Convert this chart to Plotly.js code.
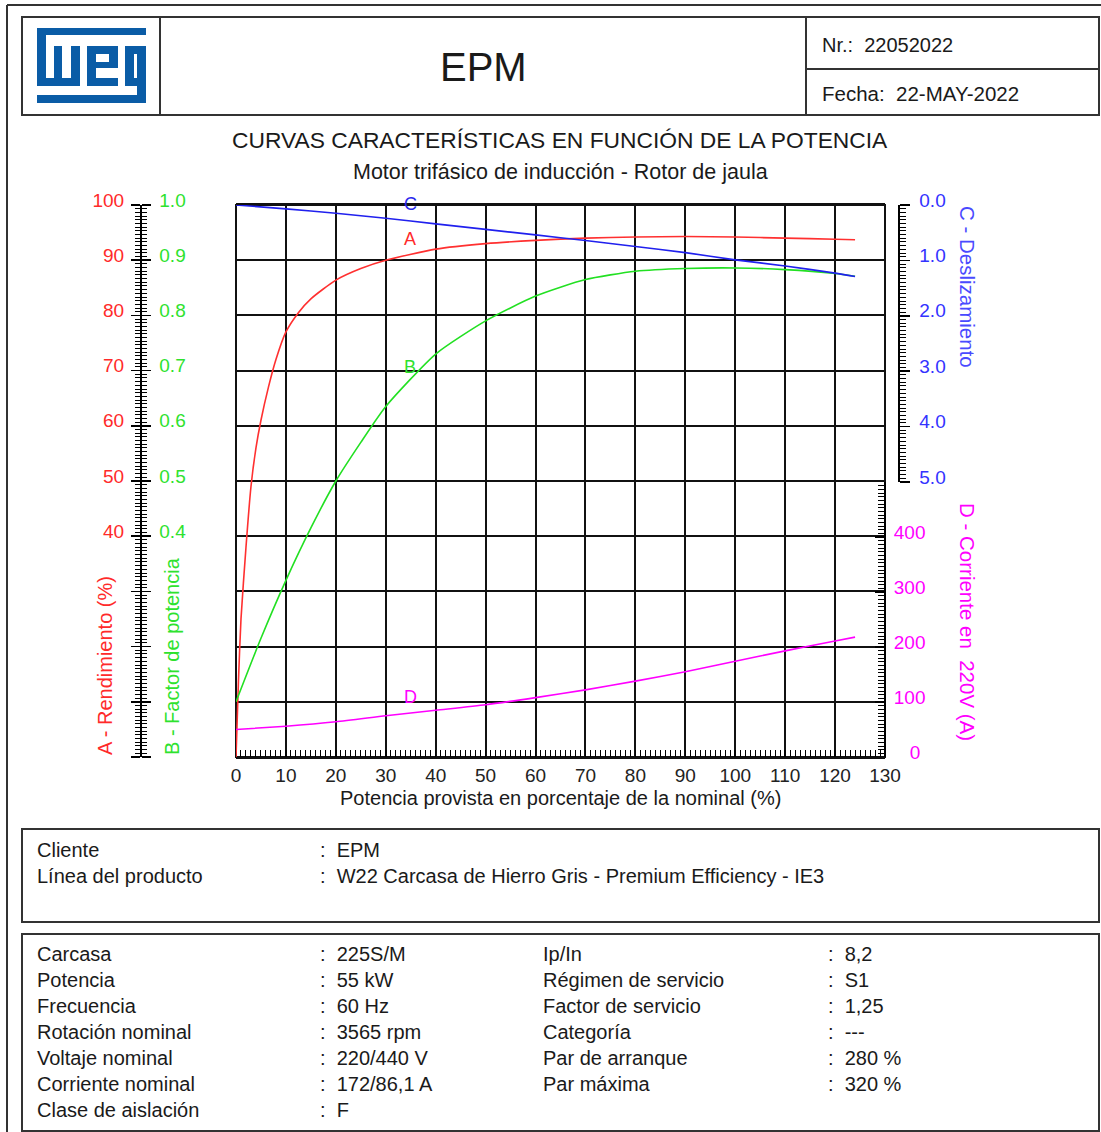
<!DOCTYPE html>
<html><head><meta charset="utf-8">
<script src="https://cdn.plot.ly/plotly-3.0.1.min.js"></script>
<style>html,body{margin:0;padding:0;background:#fff}#chart{width:1101px;height:1132px}</style>
</head><body><div id="chart"></div>
<script>
// ---------- DATA ----------
const powerA = [0,0.5,1,2,3,4,5,6.5,8,10,12.5,15,20,25,30,40,50,60,70,80,90,100,110,120,124];
const efficiency = [0,14,25,38,49,56,61,67,72,77,80.5,83,86.4,88.5,90,92,93,93.6,94,94.2,94.3,94.2,94,93.8,93.7];
const powerB = [0,5,10,15,20,25,30,40,50,60,70,80,90,100,110,120,124];
const powerFactor = [0.10,0.215,0.32,0.415,0.50,0.57,0.635,0.73,0.79,0.835,0.865,0.88,0.885,0.886,0.883,0.876,0.871];
const powerC = [0,10,20,30,40,50,60,70,80,90,100,110,120,124];
const slip = [0,0.07,0.15,0.24,0.34,0.44,0.54,0.64,0.75,0.86,0.99,1.1,1.23,1.29];
const powerD = [0,10,20,30,40,50,60,70,80,90,100,110,120,124];
const current = [50,56,64,75,85,95,108,122,138,155,174,193,211,218];

const xTicks = [0,10,20,30,40,50,60,70,80,90,100,110,120,130];
const aTicks = [0,10,20,30,40,50,60,70,80,90,100];
const aTickText = ['','','','','40','50','60','70','80','90','100'];
const bTicks = [0,0.1,0.2,0.3,0.4,0.5,0.6,0.7,0.8,0.9,1.0];
const bTickText = ['','','','','0.4','0.5','0.6','0.7','0.8','0.9','1.0'];
const cTicks = [0,1,2,3,4,5];
const cTickText = ['0.0','1.0','2.0','3.0','4.0','5.0'];
const dTicks = [0,100,200,300,400,500];
const dTickText = ['\u00a0\u00a0\u00a00','100','200','300','400',''];

const clientLabels = ['Cliente','Línea del producto'];
const clientValues = ['EPM','W22 Carcasa de Hierro Gris - Premium Efficiency - IE3'];
const specLabels1 = ['Carcasa','Potencia','Frecuencia','Rotación nominal','Voltaje nominal','Corriente nominal','Clase de aislación'];
const specValues1 = ['225S/M','55 kW','60 Hz','3565 rpm','220/440 V','172/86,1 A','F'];
const specLabels2 = ['Ip/In','Régimen de servicio','Factor de servicio','Categoría','Par de arranque','Par máxima'];
const specValues2 = ['8,2','S1','1,25','---','280 %','320 %'];

// ---------- HELPERS ----------
const W=1101,H=1132;
const px=v=>v/W, py=v=>1-v/H;
const FONT='Liberation Sans, Arial, sans-serif';
const RED='#ff2a2a', GREEN='#2ee22e', BLUE='#2a2aee', MAG='#ff00ff', TXT='#1a1a1a';
const LINEC='#333';

const annotations=[];
function txt(text,x,y,opt){
  opt=opt||{};
  annotations.push({text:text,xref:'paper',yref:'paper',x:px(x),y:py(y),
    xanchor:opt.xa||'left',yanchor:'middle',showarrow:false,textangle:opt.angle||0,
    font:{family:FONT,size:opt.size||20,color:opt.color||TXT}});
}
const shapes=[];
function rect(x0,y0,x1,y1,opt){
  opt=opt||{};
  shapes.push({type:'rect',xref:'paper',yref:'paper',x0:px(x0),x1:px(x1),y0:py(y0),y1:py(y1),
    line:{color:opt.lc||LINEC,width:opt.lw===undefined?2:opt.lw},fillcolor:opt.fill||'rgba(0,0,0,0)',layer:opt.layer||'above'});
}
function line(x0,y0,x1,y1,w){
  shapes.push({type:'line',xref:'paper',yref:'paper',x0:px(x0),x1:px(x1),y0:py(y0),y1:py(y1),line:{color:LINEC,width:w||2}});
}

// frames
line(7,5,1101,5,2); line(7,5,7,1132,2);
rect(22,17,1099,115);
line(160,17,160,115); line(806,17,806,115); line(806,69,1099,69);
rect(22,829,1099,922);
rect(22,934,1099,1131);
// plot border
rect(236,205,885,757,{lc:'#111',lw:2,layer:'below'});

// logo
const LOGO='#0a5ca6';
[[37,28,146,35],[37,28,46,86],[37,78,80,86],[54,46,62,86],[71,46,80,86],
 [87,46,96,86],[87,46,118,54],[109,46,118,68],[87,62,118,68],[87,78,118,86],
 [125,46,146,54],[125,46,134,86],[125,78,146,86],[137,46,146,103],[37,95,146,103]
].forEach(r=>rect(r[0],r[1],r[2],r[3],{lw:0,fill:LOGO}));

// header text
txt('EPM',483,67,{xa:'center',size:40});
txt('Nr.:  22052022',820,45,{size:20});
txt('Fecha:  22-MAY-2022',820,93,{size:20.5});
txt('CURVAS CARACTERÍSTICAS EN FUNCIÓN DE LA POTENCIA',560,140,{xa:'center',size:22.8});
txt('Motor trifásico de inducción - Rotor de jaula',560,172,{xa:'center',size:21.5});
txt('Potencia provista en porcentaje de la nominal (%)',560,798,{xa:'center',size:20});

// axis titles
txt('A - Rendimiento (%)',105,666,{xa:'center',angle:-90,size:20,color:RED});
txt('B - Factor de potencia',172,656,{xa:'center',angle:-90,size:20,color:GREEN});
txt('C - Deslizamiento',968,287,{xa:'center',angle:90,size:20.5,color:'#4a4aff'});
txt('D - Corriente en  220V (A)',968,622,{xa:'center',angle:90,size:20.5,color:MAG});

// curve letters
txt('C',410,204,{xa:'center',size:18,color:BLUE});
txt('A',410,239,{xa:'center',size:18,color:RED});
txt('B',410,367,{xa:'center',size:18,color:GREEN});
txt('D',410,697,{xa:'center',size:18,color:MAG});

// info text
clientLabels.forEach((l,i)=>{ txt(l,35,850+26*i); txt(':  '+clientValues[i],318,850+26*i); });
specLabels1.forEach((l,i)=>{ txt(l,35,954+26*i); txt(':  '+specValues1[i],318,954+26*i); });
specLabels2.forEach((l,i)=>{ txt(l,541,954+26*i); txt(':  '+specValues2[i],826,954+26*i); });

// ---------- TRACES ----------
const traces=[
 {x:powerA,y:efficiency,xaxis:'x',yaxis:'y',mode:'lines',line:{color:'#ff3030',width:1.6,shape:'spline',smoothing:0.6},hoverinfo:'skip'},
 {x:powerB,y:powerFactor,xaxis:'x',yaxis:'y2',mode:'lines',line:{color:'#22e022',width:1.6,shape:'spline',smoothing:0.6},hoverinfo:'skip'},
 {x:powerC,y:slip,xaxis:'x2',yaxis:'y3',mode:'lines',line:{color:'#2020ee',width:1.6,shape:'spline',smoothing:0.6},hoverinfo:'skip'},
 {x:powerD,y:current,xaxis:'x2',yaxis:'y4',mode:'lines',line:{color:MAG,width:1.6,shape:'spline',smoothing:0.6},hoverinfo:'skip'}
];

const xdom=[px(236),px(885)];
const tf=(c)=>({family:FONT,size:19,color:c});
const layout={
 width:W,height:H,margin:{l:0,r:0,t:0,b:0},paper_bgcolor:'#fff',plot_bgcolor:'rgba(0,0,0,0)',
 showlegend:false,hovermode:false,
 xaxis:{domain:xdom,range:[0,130],anchor:'y',tickmode:'array',tickvals:xTicks,ticktext:xTicks.map(String),
   ticks:'inside',ticklen:7,tickwidth:1.5,tickcolor:'#000',
   minor:{tickmode:'linear',tick0:0,dtick:1,ticks:'inside',ticklen:7,tickwidth:1,tickcolor:'#000',showgrid:false},
   showgrid:true,gridcolor:'#111',gridwidth:2,showline:true,linecolor:'#111',linewidth:2,mirror:true,zeroline:false,
   tickfont:tf('#222'),ticklabelstandoff:0},
 xaxis2:{domain:xdom,range:[0,130],anchor:'y3',visible:false,showgrid:false},
 yaxis:{domain:[py(757),py(205)],range:[0,100],anchor:'free',position:px(140),side:'left',
   tickmode:'array',tickvals:aTicks,ticktext:aTickText,ticks:'outside',ticklen:9,tickwidth:1.5,tickcolor:'#000',
   minor:{tickmode:'linear',tick0:0,dtick:10/15,ticks:'outside',ticklen:5,tickwidth:1,tickcolor:'#000',showgrid:false},
   showline:true,linecolor:'#000',linewidth:1.5,showgrid:true,gridcolor:'#111',gridwidth:2,zeroline:false,
   tickfont:tf(RED),ticklabelstandoff:3,ticklabelshift:-5},
 yaxis2:{overlaying:'y',range:[0,1],anchor:'free',position:px(140),side:'right',
   tickmode:'array',tickvals:bTicks,ticktext:bTickText,ticks:'outside',ticklen:9,tickwidth:1.5,tickcolor:'#000',
   minor:{tickmode:'linear',tick0:0,dtick:0.1/15,ticks:'outside',ticklen:5,tickwidth:1,tickcolor:'#000',showgrid:false},
   showline:true,linecolor:'#000',linewidth:1.5,showgrid:false,zeroline:false,
   tickfont:tf(GREEN),ticklabelstandoff:5,ticklabelshift:-5},
 yaxis3:{domain:[py(482),py(205)],range:[5,0],autorange:false,anchor:'free',position:px(898),side:'right',
   tickmode:'array',tickvals:cTicks,ticktext:cTickText,ticks:'outside',ticklen:10,tickwidth:1.5,tickcolor:'#000',
   minor:{tickmode:'linear',tick0:0,dtick:1/15,ticks:'outside',ticklen:6,tickwidth:1,tickcolor:'#000',showgrid:false},
   showline:true,linecolor:'#000',linewidth:1.5,showgrid:false,zeroline:false,
   tickfont:tf('#3333ff'),ticklabelstandoff:6,ticklabelshift:5},
 yaxis4:{domain:[py(757),py(482)],range:[0,500],anchor:'free',position:px(885),side:'right',
   tickmode:'array',tickvals:dTicks,ticktext:dTickText,ticks:'inside',ticklen:9,tickwidth:1.5,tickcolor:'#000',
   minor:{tickmode:'linear',tick0:0,dtick:100/15,ticks:'inside',ticklen:6,tickwidth:1,tickcolor:'#000',showgrid:false},
   showline:true,linecolor:'#000',linewidth:2,showgrid:false,zeroline:false,
   tickfont:tf(MAG),ticklabelstandoff:4,ticklabelshift:-5},
 shapes:shapes,annotations:annotations
};
Plotly.newPlot('chart',traces,layout,{staticPlot:true,displayModeBar:false});
</script></body></html>
